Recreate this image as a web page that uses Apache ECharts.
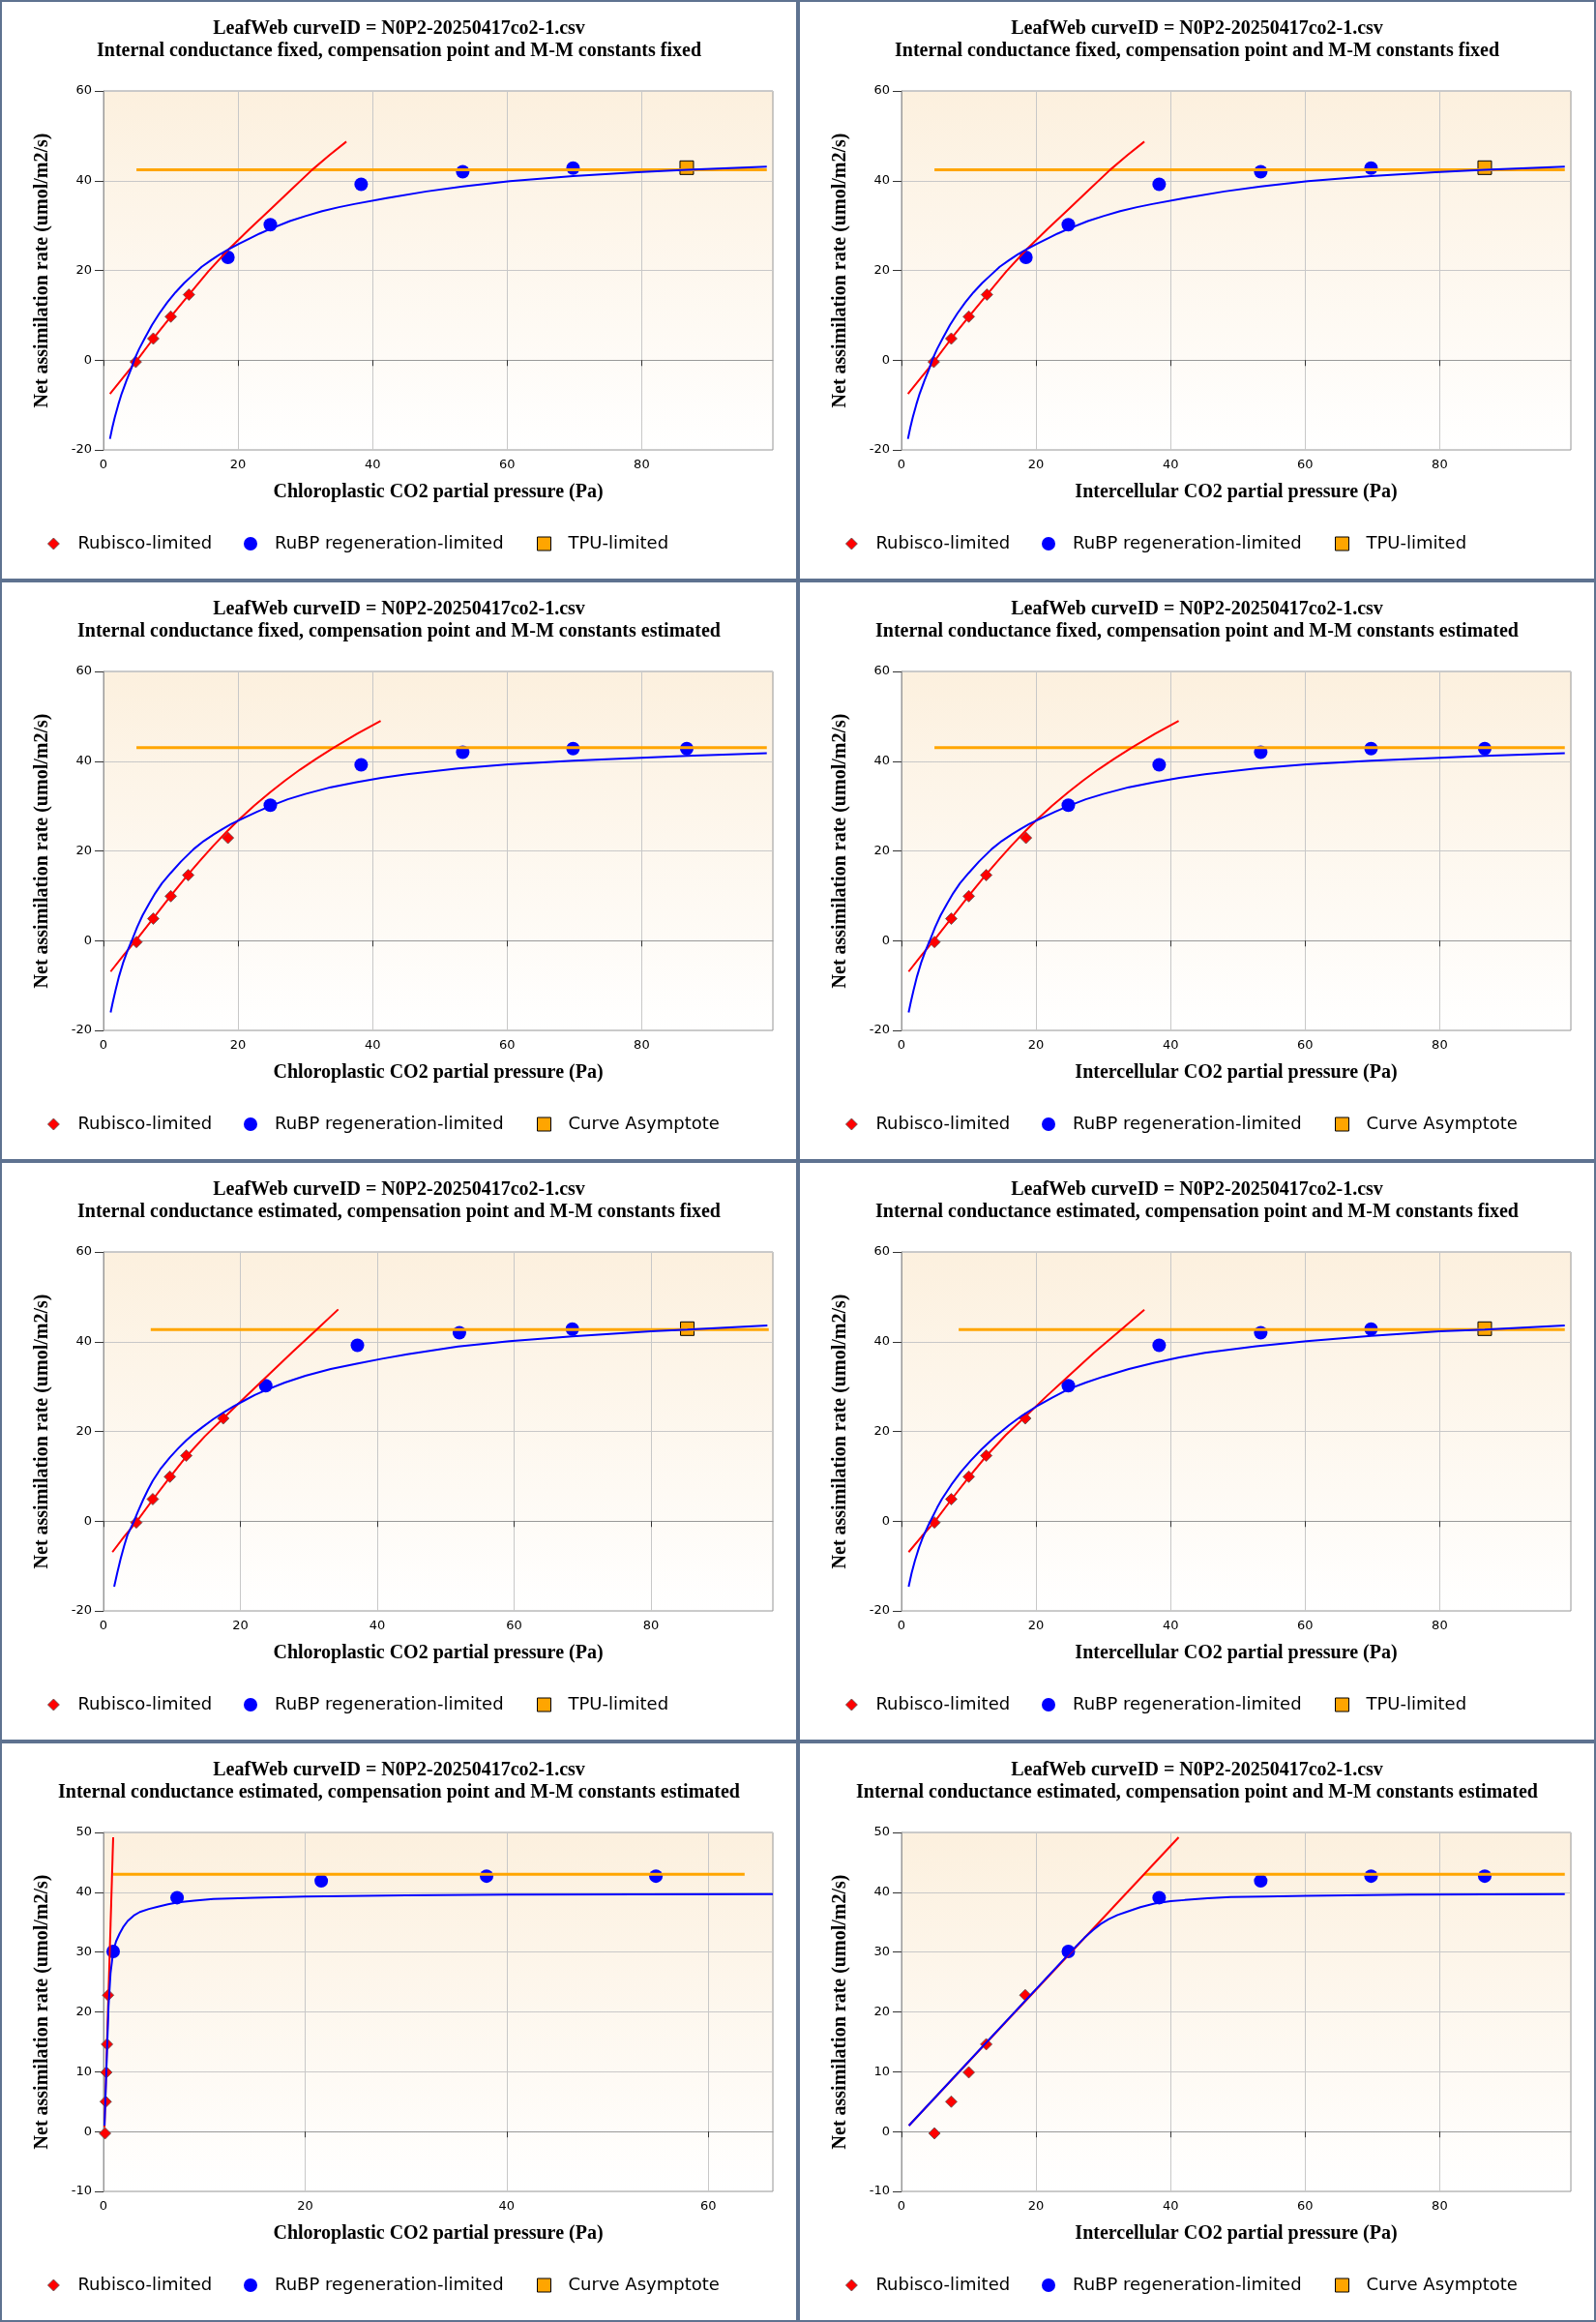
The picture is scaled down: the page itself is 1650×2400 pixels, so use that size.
<!DOCTYPE html>
<html>
<head>
<meta charset="utf-8">
<script src="https://cdn.jsdelivr.net/npm/echarts@6/dist/echarts.min.js"></script>
<style>
  html, body { margin: 0; padding: 0; background: #ffffff; }
  #wrap { width: 1650px; height: 2400px; display: grid; grid-template-columns: 825px 825px; grid-template-rows: repeat(4, 600px); }
  .panel { box-sizing: border-box; border: 2px solid #5e7290; background: #ffffff; width: 825px; height: 600px; }
  .chart { width: 821px; height: 596px; }
</style>
</head>
<body>
<div id="wrap"></div>
<script>
// ---------- texts ----------
const titleLine1 = 'LeafWeb curveID = N0P2-20250417co2-1.csv';
const subtitles = [
  'Internal conductance fixed, compensation point and M-M constants fixed',
  'Internal conductance fixed, compensation point and M-M constants fixed',
  'Internal conductance fixed, compensation point and M-M constants estimated',
  'Internal conductance fixed, compensation point and M-M constants estimated',
  'Internal conductance estimated, compensation point and M-M constants fixed',
  'Internal conductance estimated, compensation point and M-M constants fixed',
  'Internal conductance estimated, compensation point and M-M constants estimated',
  'Internal conductance estimated, compensation point and M-M constants estimated'
];
const xNames = [
  'Chloroplastic CO2 partial pressure (Pa)', 'Intercellular CO2 partial pressure (Pa)',
  'Chloroplastic CO2 partial pressure (Pa)', 'Intercellular CO2 partial pressure (Pa)',
  'Chloroplastic CO2 partial pressure (Pa)', 'Intercellular CO2 partial pressure (Pa)',
  'Chloroplastic CO2 partial pressure (Pa)', 'Intercellular CO2 partial pressure (Pa)'
];
const yName = 'Net assimilation rate (umol/m2/s)';
const legendRubisco = 'Rubisco-limited';
const legendRubp = 'RuBP regeneration-limited';
const legendThird = ['TPU-limited', 'TPU-limited', 'Curve Asymptote', 'Curve Asymptote',
                     'TPU-limited', 'TPU-limited', 'Curve Asymptote', 'Curve Asymptote'];

// ---------- axis ranges ----------
const xMaxes = [99.5, 99.5, 99.5, 99.5, 97.8, 99.5, 66.4, 99.5];
const yMins = [-20, -20, -20, -20, -20, -20, -10, -10];
const yMaxes = [60, 60, 60, 60, 60, 60, 50, 50];
const ySteps = [20, 20, 20, 20, 20, 20, 10, 10];

// ---------- panel 1 & 2 (gm fixed, Gamma/Km fixed) ----------
const p1Rubisco = [[4.8, -0.4], [7.4, 4.8], [10.0, 9.7], [12.7, 14.6]];
const p1Rubp = [[18.5, 22.9], [24.8, 30.2], [38.3, 39.2], [53.4, 42.0], [69.8, 42.8]];
const p1Tpu = [[86.7, 42.9]];
const p1RubiscoFit = [[0.96, -7.5], [2.9, -3.9], [4.8, -0.4], [7.4, 4.8], [10.0, 9.7], [12.7, 14.6], [15.6, 19.8], [18.6, 24.7], [21.7, 29.2], [24.8, 33.6], [27.9, 38.0], [31.0, 42.4], [33.6, 45.7], [36.1, 48.7]];
const p1RubpFit = [[0.96, -17.55], [1.3, -15.1], [1.68, -12.7], [2.2, -9.9], [2.69, -7.5], [3.4, -4.6], [4.12, -1.9], [4.6, 0.2], [5.3, 2.5], [6.14, 4.9], [7.2, 7.8], [8.3, 10.4], [9.5, 12.9], [10.7, 15.1], [12.0, 17.2], [13.3, 19.0], [14.6, 20.8], [16.0, 22.3], [17.3, 23.6], [18.6, 24.7], [20.1, 25.9], [21.7, 27.1], [23.2, 28.2], [24.7, 29.2], [27.7, 31.0], [30.0, 32.1], [32.5, 33.2], [35.0, 34.1], [37.3, 34.8], [42.1, 36.1], [48.0, 37.6], [53.4, 38.7], [60.4, 39.9], [69.8, 41.0], [79.3, 41.9], [86.7, 42.4], [98.6, 43.1]];
const p1Limit = [[4.9, 42.4], [98.6, 42.4]];

// ---------- panel 3 & 4 (gm fixed, Gamma/Km estimated) ----------
const p3Rubisco = [[4.9, -0.3], [7.4, 4.9], [10.0, 9.9], [12.6, 14.6], [18.5, 22.9]];
const p3Rubp = [[24.8, 30.2], [38.3, 39.2], [53.4, 42.0], [69.8, 42.8], [86.7, 42.8]];
const p3RubiscoFit = [[1.06, -6.9], [3.0, -3.2], [4.9, 0.2], [7.4, 5.0], [10.0, 10.0], [12.6, 14.8], [14.5, 18.1], [16.3, 21.1], [18.2, 24.1], [20.0, 26.8], [22.4, 30.1], [24.8, 33.1], [27.0, 35.7], [29.2, 38.1], [31.6, 40.5], [34.2, 43.0], [37.7, 46.1], [41.2, 49.0]];
const p3RubpFit = [[1.06, -16.0], [1.4, -13.6], [1.8, -11.0], [2.3, -8.0], [2.9, -5.0], [3.5, -2.5], [4.2, 0.0], [5.0, 3.0], [5.8, 5.6], [6.8, 8.3], [7.7, 10.6], [8.7, 12.8], [10.0, 15.1], [11.5, 17.6], [13.4, 20.4], [14.9, 22.2], [16.4, 23.7], [17.7, 24.9], [19.0, 26.0], [20.8, 27.3], [22.8, 28.7], [24.8, 30.0], [27.4, 31.5], [30.0, 32.7], [33.8, 34.2], [37.6, 35.3], [41.3, 36.3], [45.1, 37.1], [52.7, 38.4], [60.2, 39.3], [69.8, 40.1], [79.1, 40.7], [86.7, 41.2], [98.6, 41.8]];
const p3Limit = [[4.9, 43.0], [98.6, 43.0]];

// ---------- panel 5 (gm estimated, Gamma/Km fixed, chloroplastic) ----------
const p5Rubisco = [[4.8, -0.3], [7.2, 4.9], [9.7, 9.9], [12.1, 14.6], [17.5, 22.9]];
const p5Rubp = [[23.7, 30.2], [37.1, 39.2], [52.0, 42.0], [68.5, 42.8]];
const p5Tpu = [[85.3, 42.9]];
const p5RubiscoFit = [[1.3, -6.9], [3.0, -3.5], [4.8, -0.2], [7.2, 4.8], [9.7, 9.8], [12.1, 14.4], [14.8, 18.9], [17.5, 22.9], [21.0, 28.1], [24.3, 32.9], [27.6, 37.7], [31.0, 42.5], [34.3, 47.2]];
const p5RubpFit = [[1.56, -14.6], [2.0, -11.6], [2.5, -8.4], [3.0, -5.6], [3.5, -3.1], [4.4, -0.2], [5.0, 2.0], [5.8, 4.8], [6.5, 7.0], [7.2, 9.0], [8.4, 11.8], [9.7, 14.2], [10.9, 16.2], [12.1, 18.0], [13.3, 19.6], [14.5, 21.0], [16.0, 22.7], [17.5, 24.2], [19.0, 25.6], [20.6, 26.9], [22.1, 28.1], [23.7, 29.2], [26.5, 30.9], [29.5, 32.4], [33.2, 33.9], [37.0, 35.1], [40.7, 36.2], [44.4, 37.2], [51.8, 38.9], [59.3, 40.1], [68.5, 41.2], [80.0, 42.3], [85.3, 42.7], [97.0, 43.6]];
const p5Limit = [[6.9, 42.7], [97.2, 42.7]];

// ---------- panel 6 (gm estimated, Gamma/Km fixed, intercellular) ----------
const p6Rubisco = [[4.9, -0.3], [7.4, 4.9], [10.0, 9.9], [12.6, 14.6], [18.4, 22.9]];
const p6Rubp = [[24.8, 30.2], [38.3, 39.2], [53.4, 42.0], [69.8, 42.8]];
const p6Tpu = [[86.7, 42.9]];
const p6RubiscoFit = [[1.06, -6.9], [3.0, -3.4], [4.9, -0.2], [7.4, 4.8], [10.0, 9.8], [12.6, 14.5], [15.5, 19.2], [18.4, 23.3], [21.6, 27.9], [24.8, 32.3], [28.6, 37.5], [32.5, 42.5], [36.1, 47.1]];
const p6RubpFit = [[1.06, -14.6], [1.5, -11.6], [2.0, -8.8], [2.6, -5.9], [3.2, -3.5], [3.9, -1.2], [4.5, 0.6], [5.3, 3.0], [6.0, 4.9], [7.4, 8.1], [8.8, 10.9], [10.3, 13.5], [11.9, 16.0], [13.9, 18.8], [16.0, 21.4], [18.0, 23.6], [20.0, 25.5], [22.4, 27.5], [24.8, 29.4], [27.4, 30.9], [30.0, 32.2], [33.8, 33.9], [37.6, 35.3], [41.3, 36.5], [45.1, 37.5], [52.7, 39.0], [60.2, 40.1], [69.8, 41.3], [80.0, 42.3], [86.7, 42.7], [98.6, 43.6]];
const p6Limit = [[8.5, 42.7], [98.6, 42.7]];

// ---------- panel 7 (gm estimated, Gamma/Km estimated, chloroplastic) ----------
const p7Rubisco = [[0.15, -0.3], [0.22, 5.0], [0.28, 9.9], [0.35, 14.6], [0.45, 22.8]];
const p7Rubp = [[0.96, 30.1], [7.3, 39.1], [21.6, 41.9], [38.0, 42.7], [54.8, 42.7]];
const p7RubiscoFit = [[0.1, 0.7], [0.96, 49.2]];
const p7RubpFit = [[0.1, 1.0], [0.3, 11.0], [0.5, 21.0], [0.7, 26.5], [0.96, 30.1], [1.25, 31.8], [1.6, 33.1], [2.0, 34.3], [2.4, 35.2], [3.0, 36.1], [3.6, 36.7], [4.5, 37.2], [5.4, 37.6], [6.4, 38.0], [7.4, 38.3], [9.0, 38.6], [10.9, 38.9], [15.0, 39.1], [20.0, 39.3], [30.0, 39.5], [40.2, 39.6], [66.4, 39.7]];
const p7Limit = [[0.96, 43.0], [63.6, 43.0]];

// ---------- panel 8 (gm estimated, Gamma/Km estimated, intercellular) ----------
const p8Rubisco = [[4.9, -0.3], [7.4, 5.0], [10.0, 9.9], [12.6, 14.6], [18.4, 22.8]];
const p8Rubp = [[24.8, 30.1], [38.3, 39.1], [53.4, 41.9], [69.8, 42.7], [86.7, 42.7]];
const p8RubiscoFit = [[1.1, 1.0], [41.2, 49.2]];
const p8RubpFit = [[1.1, 1.0], [24.8, 29.6], [25.9, 30.9], [27.2, 32.4], [28.5, 33.7], [29.6, 34.7], [30.8, 35.5], [32.1, 36.2], [33.4, 36.7], [35.5, 37.5], [37.6, 38.1], [40.0, 38.5], [42.1, 38.7], [45.5, 39.0], [48.9, 39.2], [54.0, 39.3], [60.2, 39.4], [75.4, 39.6], [98.6, 39.7]];
const p8Limit = [[36.1, 43.0], [98.6, 43.0]];

const panelData = [
  { rub: p1Rubisco, rbp: p1Rubp, tpu: p1Tpu, rFit: p1RubiscoFit, jFit: p1RubpFit, lim: p1Limit },
  { rub: p1Rubisco, rbp: p1Rubp, tpu: p1Tpu, rFit: p1RubiscoFit, jFit: p1RubpFit, lim: p1Limit },
  { rub: p3Rubisco, rbp: p3Rubp, tpu: null, rFit: p3RubiscoFit, jFit: p3RubpFit, lim: p3Limit },
  { rub: p3Rubisco, rbp: p3Rubp, tpu: null, rFit: p3RubiscoFit, jFit: p3RubpFit, lim: p3Limit },
  { rub: p5Rubisco, rbp: p5Rubp, tpu: p5Tpu, rFit: p5RubiscoFit, jFit: p5RubpFit, lim: p5Limit },
  { rub: p6Rubisco, rbp: p6Rubp, tpu: p6Tpu, rFit: p6RubiscoFit, jFit: p6RubpFit, lim: p6Limit },
  { rub: p7Rubisco, rbp: p7Rubp, tpu: null, rFit: p7RubiscoFit, jFit: p7RubpFit, lim: p7Limit },
  { rub: p8Rubisco, rbp: p8Rubp, tpu: null, rFit: p8RubiscoFit, jFit: p8RubpFit, lim: p8Limit }
];

// ---------- styles ----------
const RED = '#ff0000', BLUE = '#0000ff', ORANGE = '#ffa500';
const serif = 'Liberation Serif', sans = 'DejaVu Sans';

function legendItem(left, size, name, icon, itemStyle, pad) {
  return {
    left: left, top: 551, padding: 0, itemWidth: size, itemHeight: size,
    selectedMode: false,
    data: [{ name: name, icon: icon, itemStyle: itemStyle }],
    formatter: n => '{p|' + n + '}',
    textStyle: { rich: { p: { fontFamily: sans, fontSize: 18, color: '#000', padding: [0, 0, 0, pad], lineHeight: 20 } } }
  };
}

const wrap = document.getElementById('wrap');
for (let i = 0; i < 8; i++) {
  const panel = document.createElement('div');
  panel.className = 'panel';
  const c = document.createElement('div');
  c.className = 'chart';
  panel.appendChild(c);
  wrap.appendChild(panel);

  const d = panelData[i];
  const isTpu = legendThird[i] === 'TPU-limited';
  const series = [
    { name: isTpu ? 'TPU fit' : 'Curve Asymptote', type: 'line', data: d.lim, symbol: 'none',
      lineStyle: { color: ORANGE, width: 3 }, itemStyle: { color: ORANGE } },
    { name: 'Rubisco fit', type: 'line', data: d.rFit, symbol: 'none', smooth: false,
      lineStyle: { color: RED, width: 2 } },
    { name: 'RuBP fit', type: 'line', data: d.jFit, symbol: 'none', smooth: false,
      lineStyle: { color: BLUE, width: 2 } },
    { name: legendRubisco, type: 'scatter', data: d.rub, symbol: 'diamond', symbolSize: 12,
      itemStyle: { color: RED, borderColor: '#555', borderWidth: 0.8, opacity: 1 } },
    { name: legendRubp, type: 'scatter', data: d.rbp, symbol: 'circle', symbolSize: 14,
      itemStyle: { color: BLUE, opacity: 1 } }
  ];
  if (d.tpu) {
    series.push({ name: 'TPU-limited', type: 'scatter', data: d.tpu, symbol: 'rect', symbolSize: 14,
      itemStyle: { color: ORANGE, borderColor: '#000', borderWidth: 1, opacity: 1 } });
  }

  const option = {
    animation: false,
    title: {
      text: titleLine1 + '\n' + subtitles[i], left: 'center', top: 16, padding: 0,
      textStyle: { fontFamily: serif, fontWeight: 'bold', fontSize: 20, lineHeight: 23, color: '#000' }
    },
    legend: [
      legendItem(47, 12, legendRubisco, 'diamond', { color: RED, borderColor: '#555', borderWidth: 0.8 }, 14),
      legendItem(250, 14, legendRubp, 'circle', { color: BLUE }, 13),
      legendItem(553, 14, legendThird[i], 'rect', { color: ORANGE, borderColor: '#000', borderWidth: 1 }, 13)
    ],
    grid: {
      left: 105, right: 24, top: 92, bottom: 133, show: true, borderColor: '#999', borderWidth: 1,
      backgroundColor: new echarts.graphic.LinearGradient(0, 0, 0, 1, [
        { offset: 0, color: '#fcf0de' }, { offset: 1, color: '#ffffff' }
      ])
    },
    xAxis: {
      type: 'value', min: 0, max: xMaxes[i], interval: 20,
      name: xNames[i], nameLocation: 'middle', nameGap: 34,
      nameTextStyle: { fontFamily: serif, fontWeight: 'bold', fontSize: 20, color: '#000' },
      axisLine: { show: true, lineStyle: { color: '#999' } },
      axisTick: { show: true, length: 6, lineStyle: { color: '#333' } },
      axisLabel: { margin: 9, fontFamily: sans, fontSize: 13, color: '#000', showMaxLabel: false },
      splitLine: { show: true, lineStyle: { color: '#c8c8c8' } }
    },
    yAxis: {
      type: 'value', min: yMins[i], max: yMaxes[i], interval: ySteps[i],
      name: yName, nameLocation: 'middle', nameGap: 53,
      nameTextStyle: { fontFamily: serif, fontWeight: 'bold', fontSize: 20, color: '#000' },
      axisLine: { show: true, lineStyle: { color: '#999' } },
      axisTick: { show: true, length: 9, lineStyle: { color: '#333' } },
      axisLabel: { margin: 12, fontFamily: sans, fontSize: 13, color: '#000' },
      splitLine: { show: true, lineStyle: { color: '#c8c8c8' } }
    },
    series: series
  };
  const chart = echarts.init(c, null, { renderer: 'canvas' });
  chart.setOption(option);
}
</script>
</body>
</html>
